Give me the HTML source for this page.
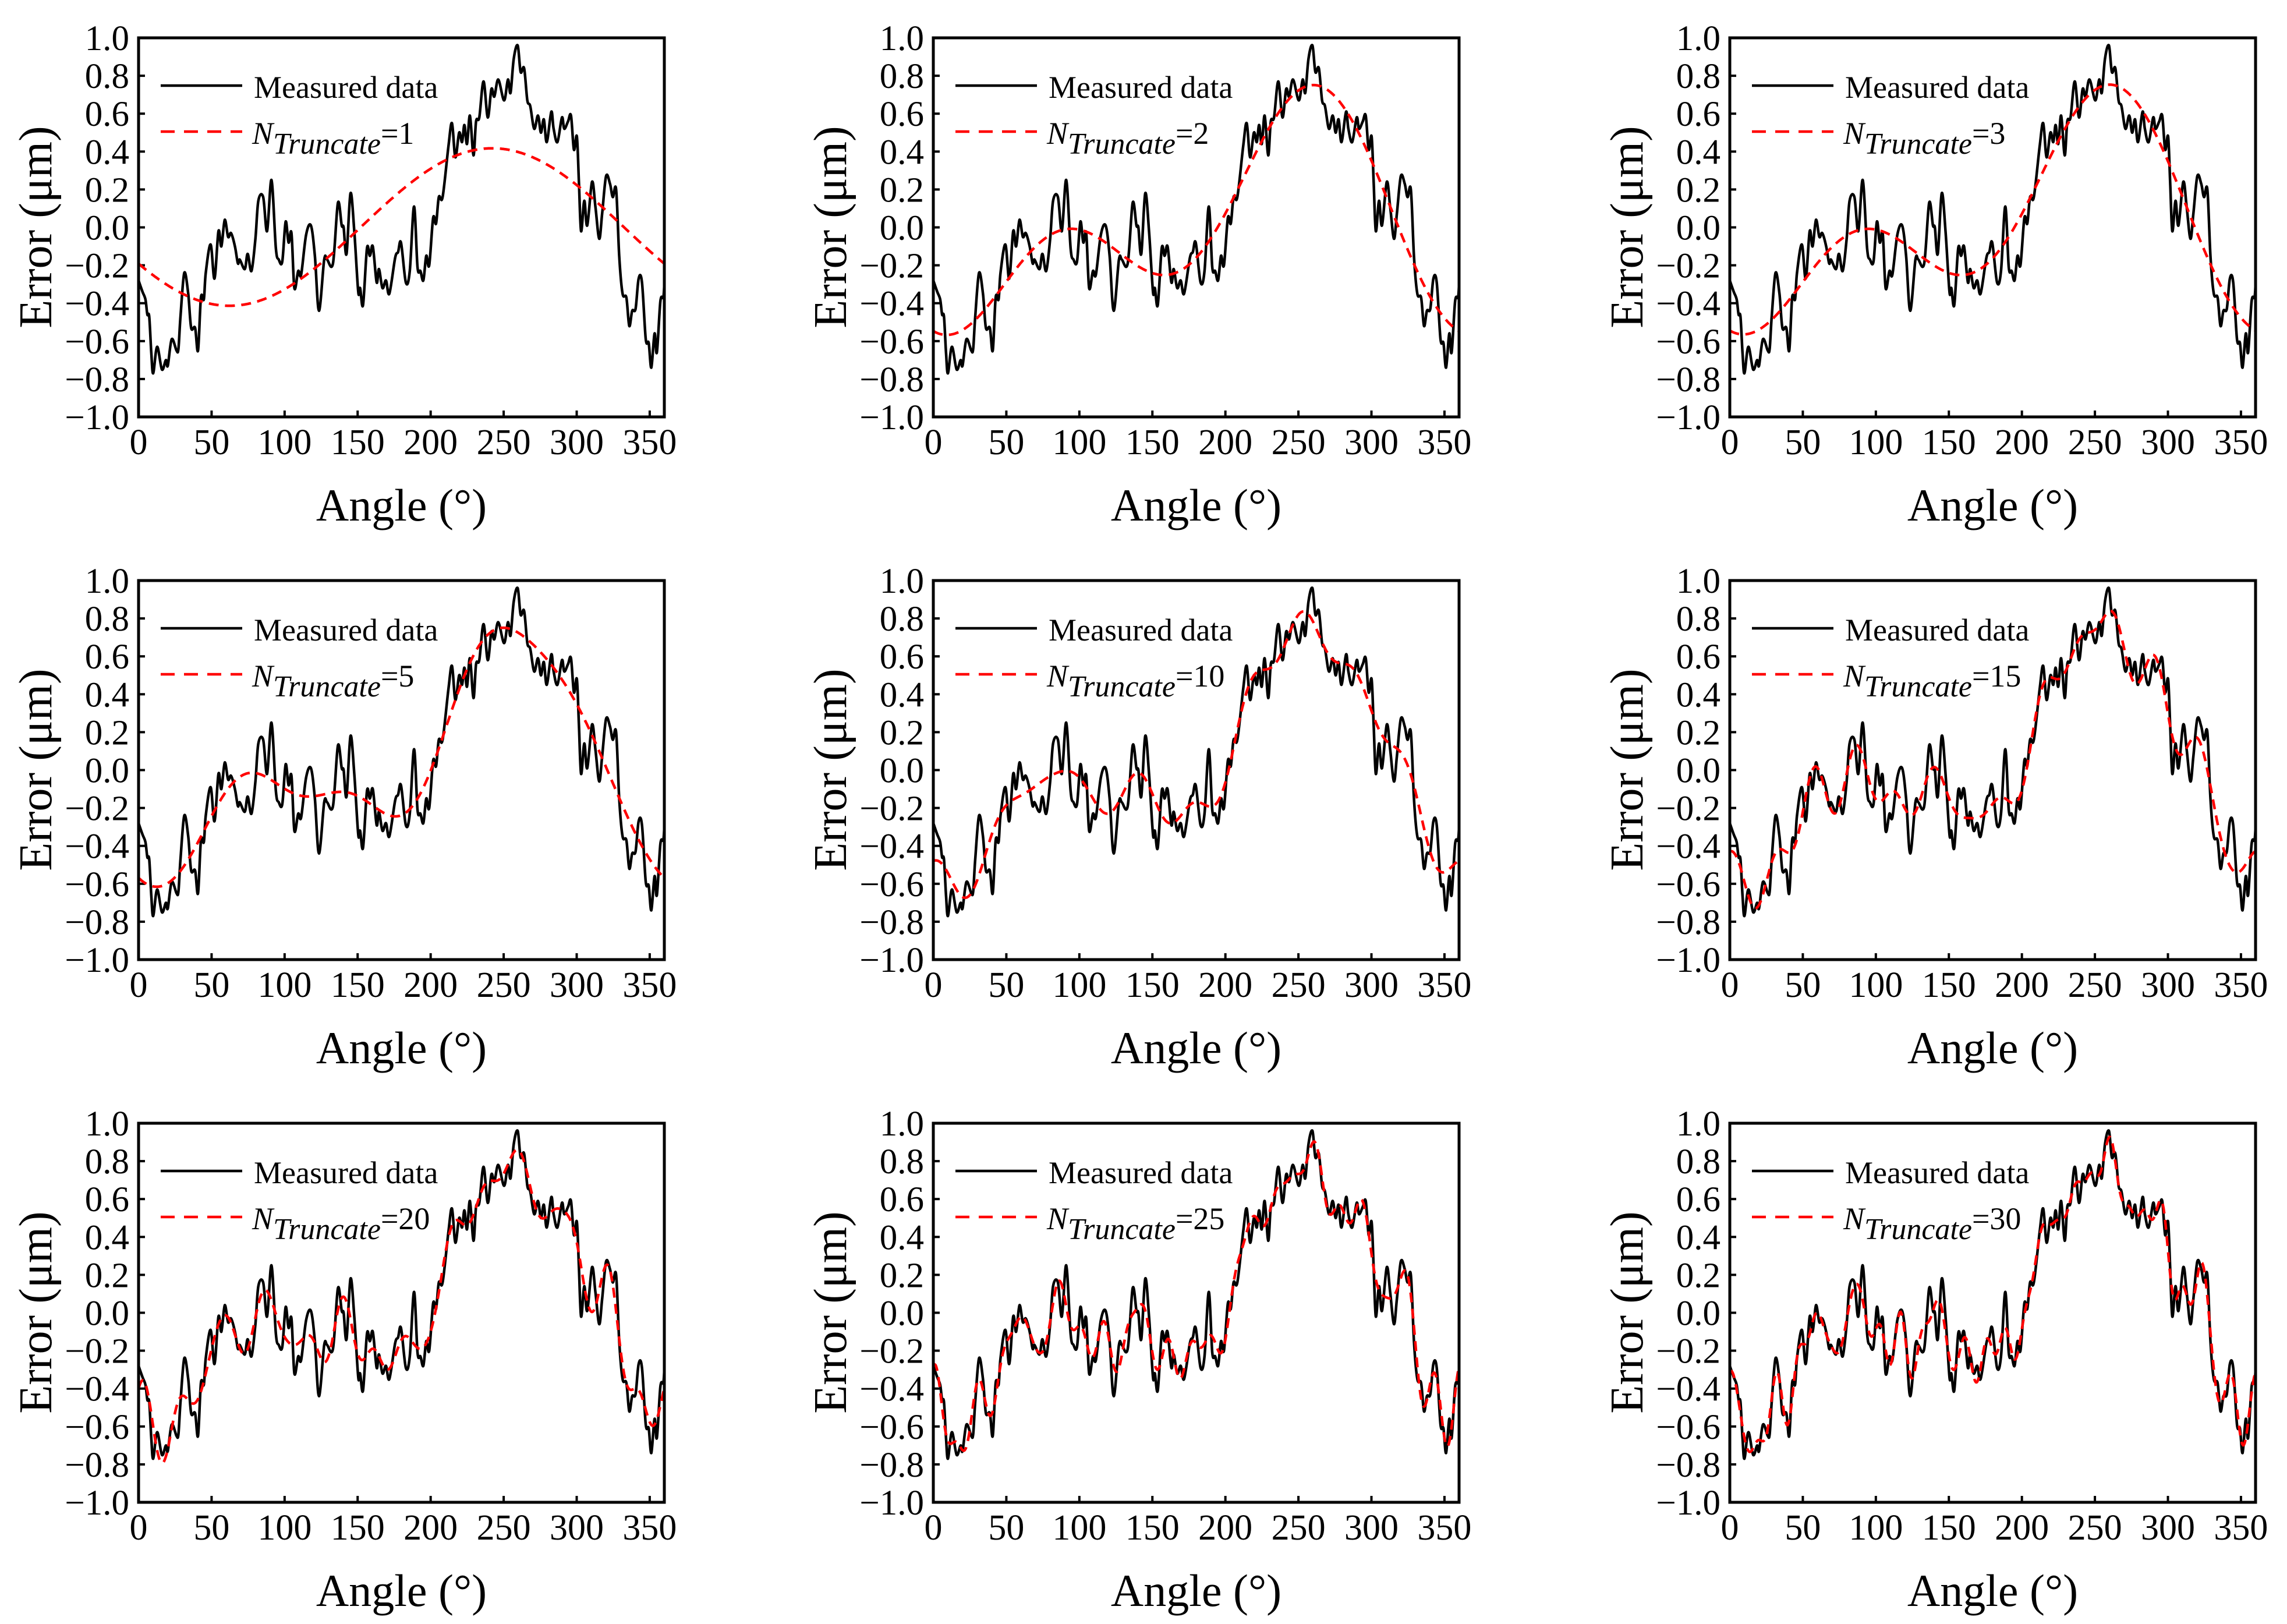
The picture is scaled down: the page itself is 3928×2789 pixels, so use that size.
<!DOCTYPE html>
<html><head><meta charset="utf-8"><style>
html,body{margin:0;padding:0;background:#fff;}
svg{display:block;font-family:"Liberation Serif","Times New Roman",serif;}
</style></head><body>
<svg id="chart" width="3928" height="2789" viewBox="0 0 3928 2789" xmlns="http://www.w3.org/2000/svg">
<rect width="3928" height="2789" fill="#fff"/>
</svg>
<script>
// Measured data (angle in degrees, error in µm)
const angles = [0,2.7,4.7,6,7.3,8.7,10,12.7,16,18.7,20,22.7,26,27.3,28.7,31.3,34,36,38.7,40.7,42.7,44.7,46,49.3,52,54.7,56.7,59,61.3,63.3,66,68,69.3,72.7,74.7,77.3,80,82,85.3,88,91,94,96,98.4,100.7,102.7,104.7,106.7,109.3,111.3,114.7,118,120.7,123.5,127.1,129.1,133.1,136.5,139.1,140.4,142.4,145.1,147.7,150.4,151.7,153.7,156.4,158.4,160.4,163,164.6,167,169.4,171.7,175.7,177.7,179.7,183,185.7,188.6,191,193,195,197,199,201.7,203.7,205.6,208.2,212.2,214.6,216.9,219.5,221.5,223.1,224.9,226.9,229.3,231.1,233.3,236.2,239.1,241.6,243.6,246.3,250.3,252.9,254.7,256.9,259.6,261.6,264,266.2,268.2,270.9,273.5,275.5,277.5,279.5,282.6,284.2,286.8,289.9,291.5,294.1,296.1,298.1,300.1,301.5,303,305.2,307.2,310.5,312.8,315.4,317.4,320.1,322.8,324.7,327,329.1,331.4,334,336,338,340.3,342.4,344.7,347.3,349.3,351.1,353.3,354.9,357.3,359.3,360];
const measured = [-0.28,-0.34,-0.38,-0.46,-0.47,-0.66,-0.77,-0.63,-0.75,-0.70,-0.73,-0.59,-0.65,-0.64,-0.47,-0.24,-0.35,-0.53,-0.53,-0.65,-0.37,-0.38,-0.24,-0.09,-0.27,-0.02,-0.10,0.04,-0.05,-0.03,-0.10,-0.19,-0.17,-0.22,-0.14,-0.23,-0.06,0.14,0.16,-0.02,0.25,-0.11,-0.17,-0.18,0.03,-0.08,-0.03,-0.32,-0.23,-0.25,-0.04,0.01,-0.15,-0.44,-0.17,-0.17,-0.19,0.13,0.01,0.00,-0.14,0.18,-0.02,-0.34,-0.32,-0.41,-0.11,-0.15,-0.10,-0.29,-0.22,-0.32,-0.28,-0.35,-0.16,-0.13,-0.08,-0.29,-0.23,0.11,-0.21,-0.23,-0.28,-0.15,-0.20,0.05,0.02,0.16,0.16,0.43,0.55,0.37,0.50,0.45,0.54,0.44,0.59,0.38,0.56,0.58,0.77,0.58,0.73,0.69,0.78,0.67,0.78,0.71,0.89,0.96,0.82,0.84,0.67,0.64,0.52,0.59,0.50,0.57,0.45,0.61,0.52,0.45,0.58,0.52,0.56,0.59,0.41,0.48,0.24,-0.02,0.14,0.01,0.24,0.11,-0.06,0.07,0.27,0.23,0.16,0.20,-0.15,-0.35,-0.37,-0.52,-0.44,-0.43,-0.27,-0.29,-0.59,-0.61,-0.74,-0.56,-0.66,-0.39,-0.37,-0.30];
// Truncation orders for each panel
const truncOrders = [1,2,3,5,10,15,20,25,30];
const xTicks = [0,50,100,150,200,250,300,350];
const yTicks = [1.0,0.8,0.6,0.4,0.2,0.0,-0.2,-0.4,-0.6,-0.8,-1.0];
const yTickLabels = ["1.0","0.8","0.6","0.4","0.2","0.0","\u22120.2","\u22120.4","\u22120.6","\u22120.8","\u22121.0"];

const NS = "http://www.w3.org/2000/svg";
const svg = document.getElementById('chart');
const colX = [0,1365,2733], rowY = [0,932,1864];
const L=238, T=65, W=903, H=651;
const xs = a => L + a/360*W;
const ys = v => T + (1-v)/2*H;

function mk(tag, attrs, parent){ const e=document.createElementNS(NS,tag); for(const k in attrs) e.setAttribute(k,attrs[k]); parent.appendChild(e); return e; }

function smoothPath(pts){
  let d='M'+pts[0][0].toFixed(1)+' '+pts[0][1].toFixed(1);
  for(let i=0;i<pts.length-1;i++){
    const p0=pts[Math.max(0,i-1)],p1=pts[i],p2=pts[i+1],p3=pts[Math.min(pts.length-1,i+2)];
    const c1x=p1[0]+(p2[0]-p0[0])/6,c1y=p1[1]+(p2[1]-p0[1])/6;
    const c2x=p2[0]-(p3[0]-p1[0])/6,c2y=p2[1]-(p3[1]-p1[1])/6;
    d+='C'+c1x.toFixed(1)+' '+c1y.toFixed(1)+' '+c2x.toFixed(1)+' '+c2y.toFixed(1)+' '+p2[0].toFixed(1)+' '+p2[1].toFixed(1);
  }
  return d;
}

// resample measured to uniform grid
const M=720, grid=[];
function interp(a){ for(let i=0;i<angles.length-1;i++){ if(a>=angles[i]&&a<=angles[i+1]){ const t=(a-angles[i])/(angles[i+1]-angles[i]||1); return measured[i]+t*(measured[i+1]-measured[i]); } } return measured[measured.length-1]; }
for(let i=0;i<M;i++) grid.push(interp(i*360/M));
function truncated(N){
  const a=[],b=[]; let a0=0; grid.forEach(v=>a0+=v); a0/=M;
  for(let k=1;k<=N;k++){ let ak=0,bk=0; for(let i=0;i<M;i++){ const th=2*Math.PI*k*i/M; ak+=grid[i]*Math.cos(th); bk+=grid[i]*Math.sin(th);} a.push(2*ak/M); b.push(2*bk/M); }
  const out=[]; for(let i=0;i<=M;i++){ let v=a0; for(let k=1;k<=N;k++){ const th=2*Math.PI*k*i/M; v+=a[k-1]*Math.cos(th)+b[k-1]*Math.sin(th);} out.push([i*360/M,v]); }
  return out;
}

truncOrders.forEach((N,idx)=>{
  const g = mk('g',{transform:`translate(${colX[idx%3]},${rowY[Math.floor(idx/3)]})`},svg);
  
  
  const clipId='clip'+idx;
  const cp=mk('clipPath',{id:clipId},g); mk('rect',{x:L,y:T,width:W,height:H},cp);
  xTicks.forEach(t=>{
    const tk=mk('line',{x1:xs(t),x2:xs(t),y1:T+H,y2:T+H-11,stroke:'#000','stroke-width':4},g);
     
    const tl=mk('text',{x:xs(t),y:780,'font-size':62,'text-anchor':'middle'},g); tl.textContent=t;
     
  });
  yTicks.forEach((t,i)=>{
    if(i>0&&i<yTicks.length-1){ const tk=mk('line',{x1:L,x2:L+11,y1:ys(t),y2:ys(t),stroke:'#000','stroke-width':4},g);
        }
    const tl=mk('text',{x:222,y:ys(t)+21,'font-size':61,'text-anchor':'end'},g); tl.textContent=yTickLabels[i];
     
  });
  const dm=smoothPath(angles.map((a,i)=>[xs(a),ys(measured[i])]));
  const p1=mk('path',{d:dm,fill:'none',stroke:'#000','stroke-width':4.5,'stroke-linejoin':'round','clip-path':`url(#${clipId})`},g);
   
  const tr=truncated(N);
  const dr=tr.map((p,i)=>(i?'L':'M')+xs(p[0]).toFixed(1)+' '+ys(p[1]).toFixed(1)).join('');
  const p2=mk('path',{d:dr,fill:'none',stroke:'#f00','stroke-width':4.5,'stroke-dasharray':'17 11','clip-path':`url(#${clipId})`},g);
   
  const fr=mk('rect',{x:L,y:T,width:W,height:H,fill:'none',stroke:'#000','stroke-width':5},g);
   
  const l1=mk('line',{x1:276,x2:416,y1:147,y2:147,stroke:'#000','stroke-width':4.5},g);
   
  const t1=mk('text',{x:436,y:168,'font-size':54},g); t1.textContent='Measured data';
   
  const l2=mk('line',{x1:276,x2:416,y1:226,y2:226,stroke:'#f00','stroke-width':4.5,'stroke-dasharray':'24 16'},g);
   
  const t2=mk('text',{x:433,y:247,'font-size':54},g);
   
  const s1=mk('tspan',{'font-style':'italic'},t2); s1.textContent='N';
  const s2=mk('tspan',{'font-style':'italic',dy:17,'font-size':52},t2); s2.textContent='Truncate';
  const s3=mk('tspan',{dy:-17},t2); s3.textContent='='+N;
  const xt=mk('text',{x:L+W/2,y:894,'font-size':78,'text-anchor':'middle'},g); xt.textContent='Angle (\u00b0)';
   
  const yt=mk('text',{x:88,y:390,'font-size':80,'text-anchor':'middle',transform:'rotate(-90 88 390)'},g); yt.textContent='Error (\u03bcm)';
   
});
</script>
</body></html>
